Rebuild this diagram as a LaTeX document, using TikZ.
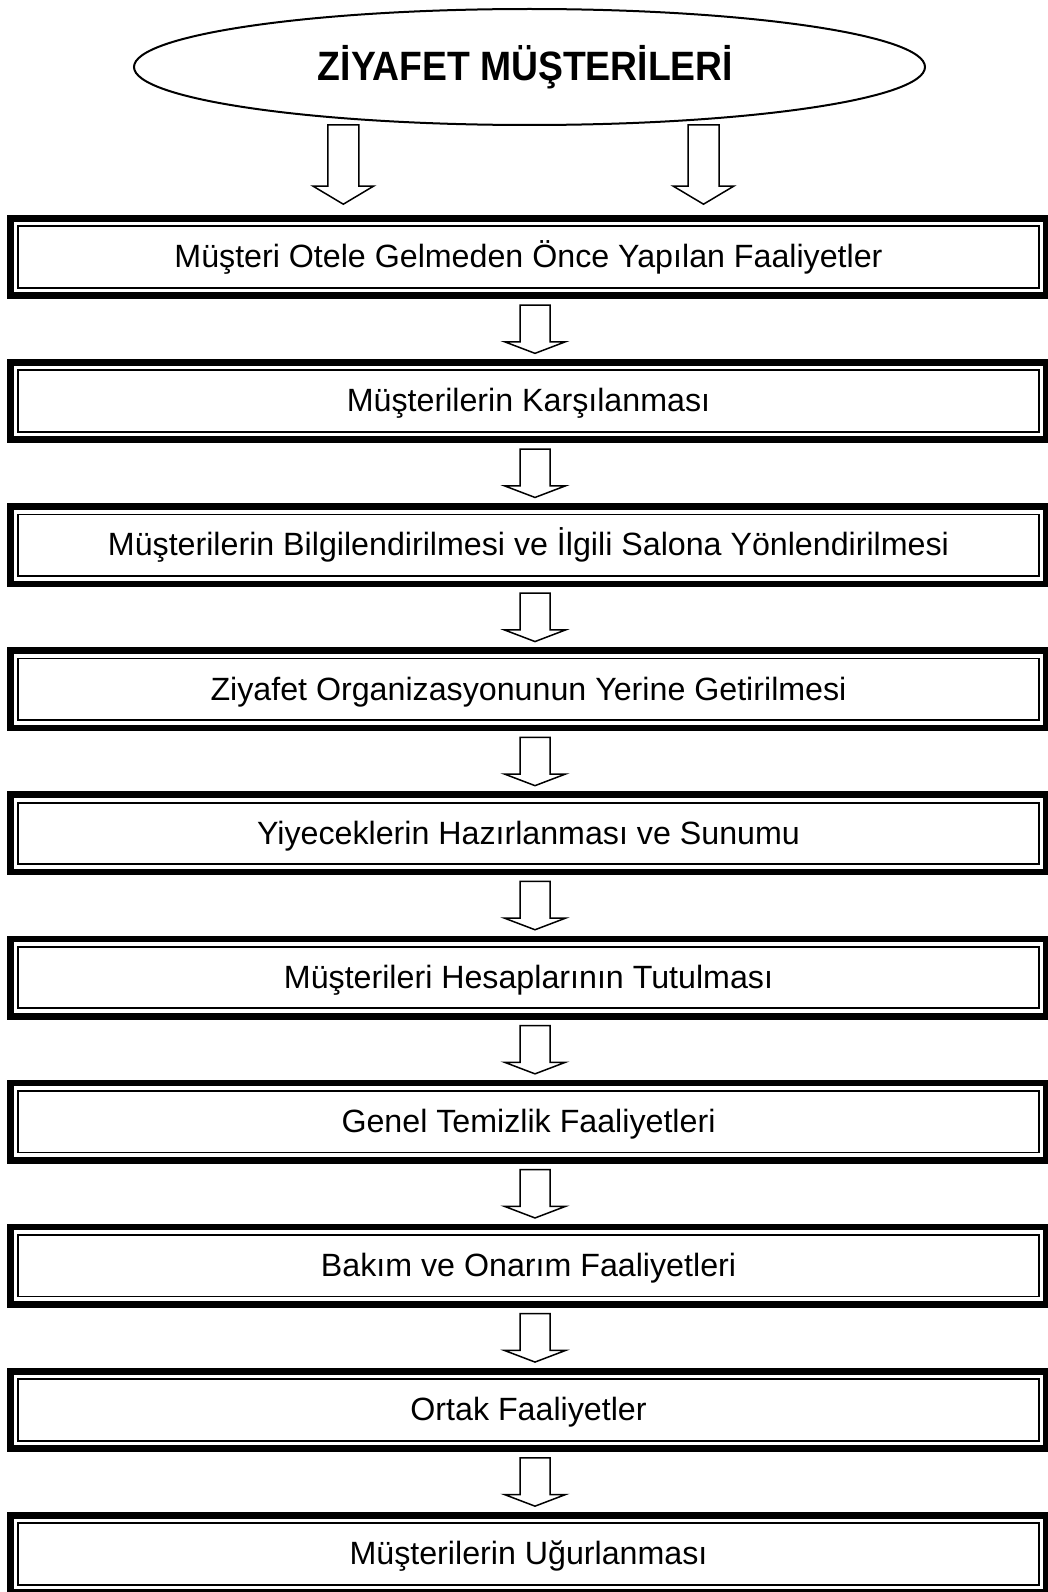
\documentclass[tikz,border=0pt]{standalone}
\usepackage{fontspec}
\setmainfont{Liberation Sans}
\usetikzlibrary{shapes.geometric,calc}
\tikzset{
  stepbox/.style={rectangle, draw=black, line width=6.7pt, minimum width=1036.3pt, minimum height=77.3pt,
    inner sep=0pt, outer sep=0pt, text height=23.4pt, text depth=2pt,
    font=\fontsize{32.2}{38}\selectfont},
  innerline/.style={draw=black, line width=1.8pt},
  titleell/.style={ellipse, draw=black, line width=2pt, minimum width=791pt, minimum height=116pt,
    inner sep=0pt, outer sep=0pt, text height=28pt, text depth=0pt},
  barrow/.style={draw=black, line width=1.5pt, fill=white, line join=miter},
}
\begin{document}
\begin{tikzpicture}[x=1pt,y=-1pt]
\fill[white] (0,0) rectangle (1048,1592);
\useasboundingbox (0,0) rectangle (1048,1592);

\node[titleell] (title) at (529.5,67) {\hspace*{-8pt}\scalebox{0.91}[1]{\bfseries\fontsize{41}{48}\selectfont ZİYAFET MÜŞTERİLERİ}};

\foreach \i/\t in {1/Müşteri Otele Gelmeden Önce Yapılan Faaliyetler,
  2/Müşterilerin Karşılanması,
  3/Müşterilerin Bilgilendirilmesi ve İlgili Salona Yönlendirilmesi,
  4/Ziyafet Organizasyonunun Yerine Getirilmesi,
  5/Yiyeceklerin Hazırlanması ve Sunumu,
  6/Müşterileri Hesaplarının Tutulması,
  7/Genel Temizlik Faaliyetleri,
  8/Bakım ve Onarım Faaliyetleri,
  9/Ortak Faaliyetler,
  10/Müşterilerin Uğurlanması}{
  \pgfmathsetmacro\boxtop{215+(\i-1)*144.1}
  \node[stepbox] (b\i) at (528.5,\boxtop+42) {\t};
  \draw[innerline] ($(b\i.north west)+(7.85,7.85)$) rectangle ($(b\i.south east)+(-7.85,-7.85)$);
}

% arrows between boxes
\foreach \i [evaluate=\i as \j using int(\i+1)] in {1,...,8,9}{
  \coordinate (s\i) at ($(b\i.south)+(6.5,0)$);
  \coordinate (n\j) at ($(b\j.north)+(6.5,0)$);
  \draw[barrow] ($(s\i)+(-15,9.35)$) -- ($(s\i)+(15,9.35)$) -- ($(n\j)+(15,-20.7)$) -- ($(n\j)+(30.5,-20.7)$)
    -- ($(n\j)+(0,-9.1)$) -- ($(n\j)+(-30.5,-20.7)$) -- ($(n\j)+(-15,-20.7)$) -- cycle;
}

% arrows from the ellipse
\foreach \dx/\nm in {-186.2/L,174/R}{
  \coordinate (t\nm) at ($(title.center)+(\dx,58)$);
  \coordinate (h\nm) at ($(b1.north)+(\dx+1,0)$);
  \draw[barrow] ($(t\nm)+(-15.5,0)$) -- ($(t\nm)+(15.5,0)$) -- ($(h\nm)+(15.5,-32.35)$) -- ($(h\nm)+(30.5,-32.35)$)
    -- ($(h\nm)+(0,-14.15)$) -- ($(h\nm)+(-30.5,-32.35)$) -- ($(h\nm)+(-15.5,-32.35)$) -- cycle;
}
\end{tikzpicture}
\end{document}
